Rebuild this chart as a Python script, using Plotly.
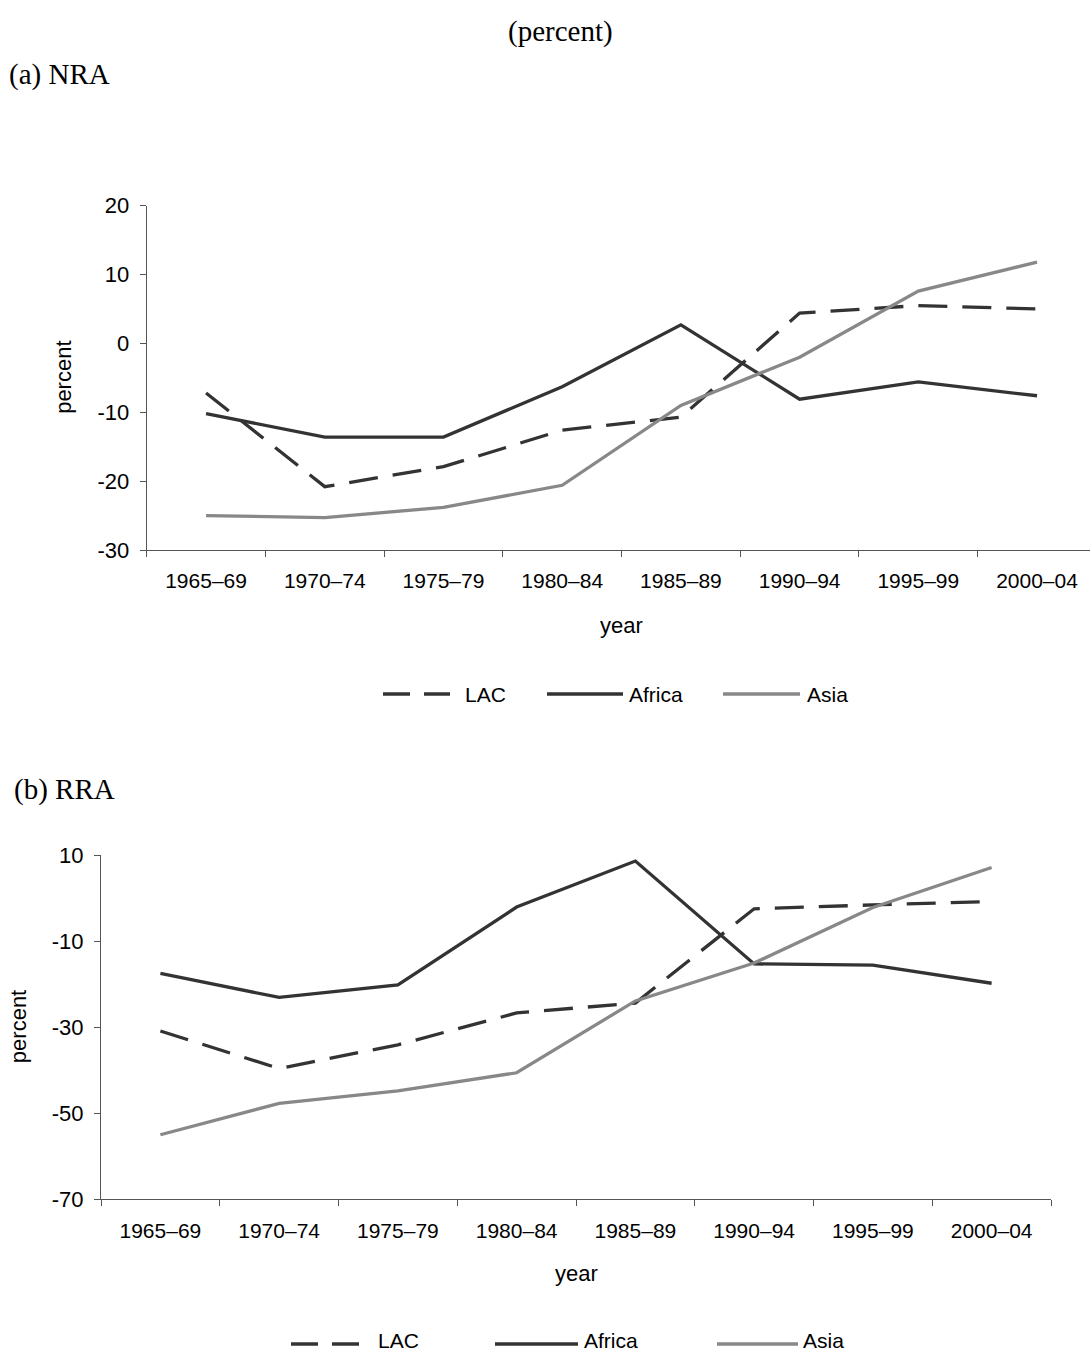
import plotly.graph_objects as go

W, H = 1090, 1354

periods = ["1965–69", "1970–74", "1975–79", "1980–84", "1985–89", "1990–94", "1995–99", "2000–04"]

# Panel (a) NRA, percent
nra_lac = [-7.2, -20.8, -17.9, -12.6, -10.7, 4.4, 5.5, 5.0]
nra_africa = [-10.2, -13.6, -13.6, -6.3, 2.7, -8.1, -5.6, -7.6]
nra_asia = [-25.0, -25.3, -23.8, -20.6, -9.0, -2.0, 7.6, 11.8]
nra_ticks = [-30, -20, -10, 0, 10, 20]
nra_ticklabels = ["-30", "-20", "-10", "0", "10", "20"]

# Panel (b) RRA, percent
rra_lac = [-30.9, -39.6, -34.1, -26.7, -24.4, -2.5, -1.6, -0.8]
rra_africa = [-17.5, -23.1, -20.2, -2.1, 8.6, -15.3, -15.6, -19.8]
rra_asia = [-55.0, -47.7, -44.8, -40.6, -23.9, -15.1, -2.2, 7.1]
rra_ticks = [-70, -50, -30, -10, 10]
rra_ticklabels = ["-70", "-50", "-30", "-10", "10"]

series_names = ["LAC", "Africa", "Asia"]

DARK = "#333333"
GRAY = "#888888"
AX = "#555555"
SANS = "Liberation Sans"
SERIF = "Liberation Serif"
FS = 21


def px(x):
    return x / W


def py(y):
    return 1 - y / H


fig = go.Figure()

styles = {
    "LAC": dict(color=DARK, width=3.3, dash="29px,15px"),
    "Africa": dict(color=DARK, width=3.3),
    "Asia": dict(color=GRAY, width=3.3),
}

for name, vals in zip(series_names, [nra_lac, nra_africa, nra_asia]):
    fig.add_trace(go.Scatter(x=periods, y=vals, mode="lines", name=name,
                             line=styles[name], xaxis="x", yaxis="y",
                             showlegend=False, hoverinfo="skip"))
for name, vals in zip(series_names, [rra_lac, rra_africa, rra_asia]):
    fig.add_trace(go.Scatter(x=periods, y=vals, mode="lines", name=name,
                             line=styles[name], xaxis="x2", yaxis="y2",
                             showlegend=False, hoverinfo="skip"))

# geometry (pixels)
a_left, a_cat = 146.7, 118.71
a_top, a_bot = 205.7, 550.0
b_left, b_right = 101.0, 1051.0
b_top, b_bot = 855.0, 1199.3

xcommon = dict(type="category", showline=True, linecolor=AX, linewidth=1,
               ticks="outside", ticklen=6, tickcolor=AX, tickson="boundaries",
               showgrid=False, zeroline=False, ticklabelstandoff=12,
               automargin=False,
               tickfont=dict(family=SANS, size=FS, color="#000000"))
ycommon = dict(showline=True, linecolor=AX, linewidth=1, ticks="outside",
               ticklen=6, tickcolor=AX, showgrid=False, zeroline=False,
               ticklabelstandoff=6, automargin=False,
               tickfont=dict(family=SANS, size=FS + 1, color="#000000"))

fig.update_layout(
    width=W, height=H,
    margin=dict(l=0, r=0, t=0, b=0, pad=0, autoexpand=False),
    paper_bgcolor="white", plot_bgcolor="white",
    xaxis=dict(xcommon, domain=[px(a_left), 1.0], anchor="y",
               range=[-0.5, -0.5 + (W - a_left) / a_cat]),
    yaxis=dict(ycommon, domain=[py(a_bot), py(a_top)], anchor="x",
               range=[-30, 20], tickvals=nra_ticks, ticktext=nra_ticklabels),
    xaxis2=dict(xcommon, domain=[px(b_left), px(b_right)], anchor="y2",
                range=[-0.5, 7.5]),
    yaxis2=dict(ycommon, domain=[py(b_bot), py(b_top)], anchor="x2",
                range=[-70, 10], tickvals=rra_ticks, ticktext=rra_ticklabels),
    showlegend=False,
)

ann = []


def text(x, y, s, font, size, xanchor="center", angle=0, yanchor="middle"):
    ann.append(dict(x=px(x), y=py(y), xref="paper", yref="paper", text=s,
                    showarrow=False, xanchor=xanchor, yanchor=yanchor,
                    textangle=angle,
                    font=dict(family=font, size=size, color="#000000")))


text(560, 31, "(percent)", SERIF, 29)
text(7, 75, "(a) NRA", SERIF, 29, xanchor="left")
text(12, 789, "(b) RRA", SERIF, 29, xanchor="left")

text(64, (a_top + a_bot) / 2, "percent", SANS, FS + 1, angle=-90)
text(18, (b_top + b_bot) / 2, "percent", SANS, FS + 1, angle=-90)
text(a_left + 4 * a_cat, 626, "year", SANS, FS + 1)
text((b_left + b_right) / 2, 1273, "year", SANS, FS + 1)

shapes = []


def legend(y, items, text_y=None, text_anchor="middle"):
    for (x0, x1, tx), name in zip(items, series_names):
        st = styles[name]
        line = dict(color=st["color"], width=st["width"])
        if name == "LAC":
            line["dash"] = "27px,14px"
        shapes.append(dict(type="line", xref="paper", yref="paper",
                           x0=px(x0), x1=px(x1), y0=py(y), y1=py(y), line=line))
        text(tx, y if text_y is None else text_y, name, SANS, FS,
             xanchor="left", yanchor=text_anchor)


legend(694, [(383, 450, 463), (547, 623, 627), (723, 800, 805)])
legend(1344, [(291, 364, 376), (495, 578, 582), (717, 798, 801)],
       text_y=H, text_anchor="bottom")

fig.update_layout(annotations=ann, shapes=shapes)

fig.write_html(
    "out.html",
    config={"displayModeBar": False},
    post_script="document.body.style.margin='0';document.body.style.overflow='hidden';",
)
